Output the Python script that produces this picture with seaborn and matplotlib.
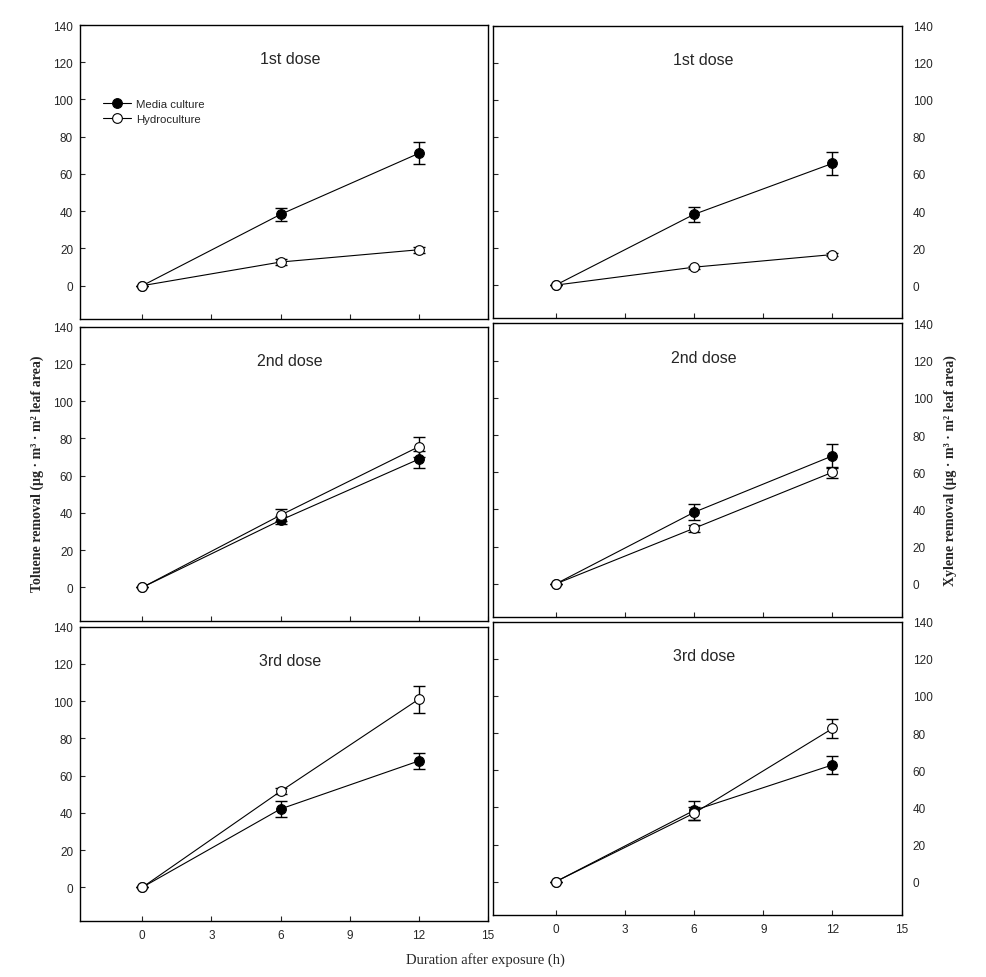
import matplotlib
matplotlib.use("Agg")
import matplotlib.pyplot as plt
import seaborn as sns

# ---- data ----
hours = [0, 6, 12]
dose_titles = ["1st dose", "2nd dose", "3rd dose"]
series_labels = ["Media culture", "Hydroculture"]

toluene_media = [[0, 38.3, 71.1], [0, 36.1, 68.9], [0, 42.1, 67.9]]
toluene_media_err = [[0, 3.5, 6.0], [0, 2.0, 4.6], [0, 4.1, 4.1]]
toluene_hydro = [[0, 12.7, 19.3], [0, 38.8, 75.6], [0, 51.6, 101.1]]
toluene_hydro_err = [[0, 1.6, 1.6], [0, 3.4, 5.4], [0, 1.6, 7.3]]

xylene_media = [[0, 38.2, 65.7], [0, 38.5, 68.8], [0, 38.4, 62.9]]
xylene_media_err = [[0, 4.2, 6.4], [0, 4.2, 6.5], [0, 5.0, 4.8]]
xylene_hydro = [[0, 9.7, 16.5], [0, 29.9, 60.0], [0, 36.9, 82.5]]
xylene_hydro_err = [[0, 0.8, 0.8], [0, 2.0, 3.0], [0, 3.4, 5.0]]

x_ticks = [0, 3, 6, 9, 12, 15]
y_ticks = [0, 20, 40, 60, 80, 100, 120, 140]

sns.set_style("white")
plt.rcParams["font.family"] = ["Liberation Sans", "DejaVu Sans"]
plt.rcParams["axes.linewidth"] = 1.0

fig = plt.figure(figsize=(9.87, 9.78), dpi=100)

left_pos = [(0.0811, 0.6728, 0.4134, 0.3006),
            (0.0811, 0.3643, 0.4134, 0.3006),
            (0.0811, 0.0576, 0.4134, 0.3006)]
right_pos = [(0.4998, 0.6735, 0.4138, 0.2992),
             (0.4998, 0.3678, 0.4138, 0.3006),
             (0.4998, 0.0634, 0.4138, 0.2999)]


def draw_panel(ax, media, media_err, hydro, hydro_err, title, side, bottom):
    ax.errorbar(hours, media, yerr=media_err, fmt="none", ecolor="black",
                elinewidth=1.0, capsize=4.5, capthick=1.0, zorder=2)
    ax.errorbar(hours, hydro, yerr=hydro_err, fmt="none", ecolor="black",
                elinewidth=1.0, capsize=4.5, capthick=1.0, zorder=2)
    sns.lineplot(x=hours, y=media, ax=ax, color="black", linewidth=0.8,
                 marker="o", markersize=7, markerfacecolor="black",
                 markeredgecolor="black", markeredgewidth=0.8,
                 label=series_labels[0], zorder=3)
    sns.lineplot(x=hours, y=hydro, ax=ax, color="black", linewidth=0.8,
                 marker="o", markersize=7, markerfacecolor="white",
                 markeredgecolor="black", markeredgewidth=0.8,
                 label=series_labels[1], zorder=4)
    ax.set_xlim(-2.7, 15)
    ax.set_ylim(-17.9, 140)
    ax.set_xticks(x_ticks)
    ax.set_yticks(y_ticks)
    ax.set_xlabel("")
    ax.set_ylabel("")
    for s in ax.spines.values():
        s.set_visible(True)
        s.set_color("black")
        s.set_linewidth(1.0)
    ax.tick_params(axis="x", direction="in", length=3.5, width=0.8,
                   bottom=True, top=False, labelbottom=bottom,
                   labelsize=8.5, pad=6)
    if side == "left":
        ax.tick_params(axis="y", direction="in", length=3.5, width=0.8,
                       left=True, right=False, labelleft=True,
                       labelright=False, labelsize=8.5, pad=5)
    else:
        ax.tick_params(axis="y", direction="in", length=3.5, width=0.8,
                       left=True, right=False, labelleft=False,
                       labelright=True, labelsize=8.5, pad=8)
    ax.text(0.515, 0.885, title, transform=ax.transAxes, ha="center",
            va="center", fontsize=11.5)
    ax.set_facecolor("white")


for i in range(3):
    axl = fig.add_axes(left_pos[i])
    draw_panel(axl, toluene_media[i], toluene_media_err[i],
               toluene_hydro[i], toluene_hydro_err[i], dose_titles[i],
               "left", i == 2)
    if i == 0:
        axl.legend(loc="upper left", bbox_to_anchor=(0.057, 0.747),
                   frameon=False, fontsize=8.2, handlelength=2.4,
                   handletextpad=0.5, labelspacing=0.4, borderpad=0,
                   borderaxespad=0)
    else:
        axl.get_legend().remove()
    axr = fig.add_axes(right_pos[i])
    draw_panel(axr, xylene_media[i], xylene_media_err[i],
               xylene_hydro[i], xylene_hydro_err[i], dose_titles[i],
               "right", i == 2)
    axr.get_legend().remove()

fig.text(37 / 987, 1 - 474 / 978,
         "Toluene removal (\u00b5g \u00b7 m\u00b3 \u00b7 m\u00b2 leaf area)",
         rotation=90, ha="center", va="center", fontsize=10,
         fontweight="bold", family=["Liberation Serif", "DejaVu Serif"])
fig.text(950 / 987, 1 - 471 / 978,
         "Xylene removal (\u00b5g \u00b7 m\u00b3 \u00b7 m\u00b2 leaf area)",
         rotation=90, ha="center", va="center", fontsize=10,
         fontweight="bold", family=["Liberation Serif", "DejaVu Serif"])
fig.text(485 / 987, 1 - 960 / 978, "Duration after exposure (h)",
         ha="center", va="center", fontsize=10.5,
         family=["Liberation Serif", "DejaVu Serif"])

fig.savefig("out.png", dpi=100, facecolor="white")
